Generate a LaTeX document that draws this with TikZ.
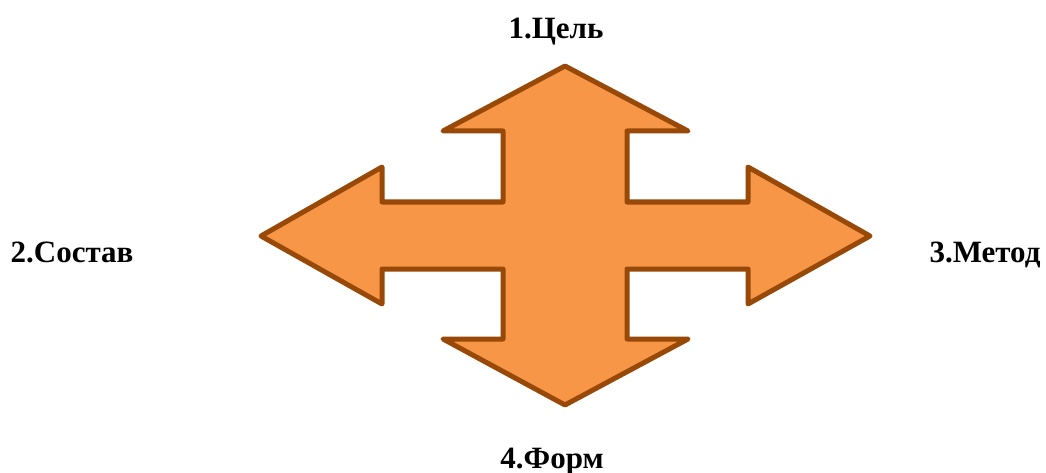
\documentclass[tikz,border=0pt]{standalone}
\usepackage{fontspec}
\setmainfont{Liberation Serif}
\newfontfamily\lblfont{Liberation Serif}[UprightFont={* Bold}]
\definecolor{arrowfill}{HTML}{F79646}
\definecolor{arrowline}{HTML}{984807}
\begin{document}
\begin{tikzpicture}[x=1pt,y=-1pt,
  lbl/.style={font=\lblfont\fontsize{31}{31}\selectfont, anchor=base, inner sep=0pt},
  quad/.style={fill=arrowfill, draw=arrowline, line width=5pt, line join=round}]
\useasboundingbox (0,0) rectangle (1046,473);
\draw[quad] (565,66) -- (688,131) -- (627,131) -- (627,202) -- (748,202) -- (748,167)
  -- (870,236) -- (748,304) -- (748,269) -- (627,269) -- (627,339) -- (688,339)
  -- (565,405) -- (443,339) -- (503,339) -- (503,269) -- (382,269) -- (382,304)
  -- (261,236) -- (382,167) -- (382,202) -- (503,202) -- (503,131) -- (443,131) -- cycle;
\node[lbl] (goal) at (556,39) {1.Цель};
\node[lbl] (comp) at (72,262) {2.Состав};
\node[lbl] (meth) at (985,262) {3.Метод};
\node[lbl] (form) at (552,468) {4.Форм};
\end{tikzpicture}
\end{document}
